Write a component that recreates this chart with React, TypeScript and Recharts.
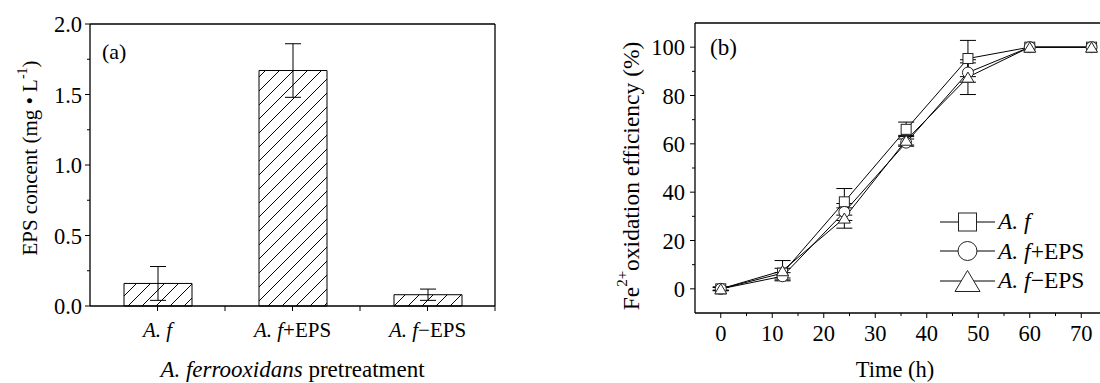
import { BarChart, Bar, LineChart, Line, XAxis, YAxis, ErrorBar, Legend } from "recharts";

const FONT = "'Times New Roman', 'Liberation Serif', Tinos, serif";

// panel (a): EPS content per pretreatment
const groups = ["A. f", "A. f+EPS", "A. f\u2212EPS"];
const epsMean = [0.16, 1.67, 0.08];
const epsErr = [0.12, 0.19, 0.04];
const epsTicks = [0, 0.25, 0.5, 0.75, 1, 1.25, 1.5, 1.75, 2];
const epsRightTicks = [0, 0.2, 0.4, 0.6, 0.8, 1, 1.2, 1.4, 1.6, 1.8, 2];

// panel (b): Fe2+ oxidation efficiency over time
const hours = [0, 12, 24, 36, 48, 60, 72];
const afMean = [0, 6.5, 36, 66, 95.3, 100, 100];
const afErr = [0.8, 2, 5.5, 3, 7.5, 0, 0];
const plusMean = [0, 5.2, 31.8, 60.5, 89.5, 100, 100];
const plusErr = [0.6, 1.5, 3.5, 1.5, 4, 0, 0];
const minusMean = [0, 7.5, 29.3, 61.5, 87.6, 100, 100];
const minusErr = [0.6, 4.2, 4.2, 2, 7.2, 0, 0];
const timeTicks = [0, 5, 10, 15, 20, 25, 30, 35, 40, 45, 50, 55, 60, 65, 70, 75];
const effTicks = [0, 10, 20, 30, 40, 50, 60, 70, 80, 90, 100];
const frameTicks = [0, 1, 2, 3, 4, 5, 6, 7, 8, 9, 10];

const barData = groups.map((g, i) => ({ group: g, eps: epsMean[i], err: epsErr[i] }));
const lineData = hours.map((t, i) => ({
  t,
  af: afMean[i],
  afErr: afErr[i],
  plus: plusMean[i],
  plusErr: plusErr[i],
  minus: minusMean[i],
  minusErr: minusErr[i],
}));

const A_PLOT_W = 405;
const axisStyle = { stroke: "#000", strokeWidth: 1.3 };
const txt = { fontFamily: FONT, fill: "#000" };

const GroupName = ({ text }: { text: string }) => (
  <>
    <tspan fontStyle="italic">A. f</tspan>
    {text.length > 4 && <tspan>{text.slice(4)}</tspan>}
  </>
);

const GroupTick = (p: any) => {
  const half = A_PLOT_W / groups.length / 2;
  return (
    <g>
      <line x1={p.x} x2={p.x} y1={p.y} y2={p.y + 5} stroke="#000" />
      <line x1={p.x + half} x2={p.x + half} y1={p.y} y2={p.y + 5} stroke="#000" />
      <text x={p.x} y={p.y + 31} textAnchor="middle" fontSize={21} {...txt}>
        <GroupName text={p.payload.value} />
      </text>
    </g>
  );
};

const EpsTick = (p: any) => {
  const v = p.payload.value;
  const major = Math.abs(v * 2 - Math.round(v * 2)) < 1e-6;
  return (
    <g>
      <line x1={p.x} x2={p.x - (major ? 5 : 3)} y1={p.y} y2={p.y} stroke="#000" />
      {major && (
        <text x={p.x - 8} y={p.y + 8} textAnchor="end" fontSize={22.5} {...txt}>
          {v.toFixed(1)}
        </text>
      )}
    </g>
  );
};

const TimeTick = (p: any) => {
  const v = p.payload.value;
  const major = v % 10 === 0;
  return (
    <g>
      <line x1={p.x} x2={p.x} y1={p.y} y2={p.y + (major ? 5 : 3)} stroke="#000" />
      {major && (
        <text x={p.x} y={p.y + 28} textAnchor="middle" fontSize={22.5} {...txt}>
          {v}
        </text>
      )}
    </g>
  );
};

const EffTick = (p: any) => {
  const v = p.payload.value;
  const major = v % 20 === 0;
  return (
    <g>
      <line x1={p.x} x2={p.x - (major ? 5 : 3)} y1={p.y} y2={p.y} stroke="#000" />
      {major && (
        <text x={p.x - 10} y={p.y + 8} textAnchor="end" fontSize={22.5} {...txt}>
          {v}
        </text>
      )}
    </g>
  );
};

const Square = ({ cx, cy, s }: any) => (
  <rect x={cx - s / 2} y={cy - s / 2} width={s} height={s} fill="#fff" stroke="#222" strokeWidth={1} />
);
const Circle = ({ cx, cy, s }: any) => <circle cx={cx} cy={cy} r={s / 2} fill="#fff" stroke="#222" strokeWidth={1} />;
const Triangle = ({ cx, cy, s }: any) => (
  <polygon
    points={`${cx - s / 2},${cy + s * 0.42} ${cx + s / 2},${cy + s * 0.42} ${cx},${cy - s * 0.42}`}
    fill="#fff"
    stroke="#222"
    strokeWidth={1}
  />
);

const series = [
  { key: "af", err: "afErr", name: "A. f", Marker: Square, dot: 10, icon: 18 },
  { key: "plus", err: "plusErr", name: "A. f+EPS", Marker: Circle, dot: 11, icon: 19 },
  { key: "minus", err: "minusErr", name: "A. f\u2212EPS", Marker: Triangle, dot: 12, icon: 25 },
];

const renderLegend = () => (
  <div style={{ fontFamily: FONT, fontSize: 23.5, color: "#000" }}>
    {series.map((s) => (
      <div key={s.key} style={{ display: "flex", alignItems: "center", height: 29.5 }}>
        <svg width={55} height={30} style={{ display: "block" }}>
          <line x1={0} x2={55} y1={15} y2={15} stroke="#000" strokeWidth={1} />
          <s.Marker cx={27.5} cy={15} s={s.icon} />
        </svg>
        <span style={{ marginLeft: 3, whiteSpace: "nowrap", lineHeight: "29px" }}>
          <i>A. f</i>
          {s.name.slice(4)}
        </span>
      </div>
    ))}
  </div>
);

const App = () => {
  return (
    <div style={{ position: "absolute", left: 0, top: 0, width: 1100, height: 383, overflow: "hidden", background: "#fff" }}>
      <div style={{ position: "absolute", left: 0, top: 0 }}>
        <BarChart width={520} height={383} data={barData} margin={{ top: 0, right: 0, bottom: 0, left: 0 }}>
          <defs>
            <pattern id="hatch" patternUnits="userSpaceOnUse" width={14} height={14}>
              <line x1={0} y1={14} x2={14} y2={0} stroke="#000" strokeWidth={1} />
              <line x1={-2} y1={2} x2={2} y2={-2} stroke="#000" strokeWidth={1} />
              <line x1={12} y1={16} x2={16} y2={12} stroke="#000" strokeWidth={1} />
            </pattern>
          </defs>
          <XAxis
            dataKey="group"
            height={77}
            axisLine={axisStyle}
            tickLine={false}
            tickSize={0}
            tickMargin={0}
            interval={0}
            tick={<GroupTick />}
            label={{
              content: (lp: any) => {
                const vb = lp.viewBox;
                return (
                  <text x={vb.x + vb.width / 2} y={vb.y + 71} textAnchor="middle" fontSize={23} {...txt}>
                    <tspan fontStyle="italic">A. ferrooxidans</tspan>
                    <tspan> pretreatment</tspan>
                  </text>
                );
              },
            }}
          />
          <XAxis
            xAxisId="top"
            orientation="top"
            type="number"
            domain={[0, 10]}
            ticks={frameTicks}
            height={24}
            axisLine={axisStyle}
            tick={false}
            tickSize={3}
            tickLine={{ stroke: "#000" }}
          />
          <YAxis
            domain={[0, 2]}
            ticks={epsTicks}
            width={90}
            interval={0}
            axisLine={axisStyle}
            tickLine={false}
            tickSize={0}
            tickMargin={0}
            tick={<EpsTick />}
            label={{
              content: (lp: any) => {
                const vb = lp.viewBox;
                const cx = vb.x + 30;
                const cy = vb.y + vb.height / 2 - 7;
                return (
                  <text
                    x={cx}
                    y={cy}
                    transform={`rotate(-90 ${cx} ${cy})`}
                    textAnchor="middle"
                    dominantBaseline="central"
                    fontSize={21}
                    {...txt}
                  >
                    EPS concent (mg {"\u2022"} L
                    <tspan dy={-8} fontSize={14}>
                      -1
                    </tspan>
                    <tspan dy={8}>)</tspan>
                  </text>
                );
              },
            }}
          />
          <YAxis
            yAxisId="right"
            orientation="right"
            domain={[0, 2]}
            ticks={epsRightTicks}
            width={25}
            interval={0}
            axisLine={axisStyle}
            tick={false}
            tickSize={3}
            tickLine={{ stroke: "#000" }}
          />
          <Bar dataKey="eps" barSize={68} fill="url(#hatch)" stroke="#000" strokeWidth={1} isAnimationActive={false}>
            <ErrorBar dataKey="err" width={8} stroke="#000" strokeWidth={1} direction="y" />
          </Bar>
        </BarChart>
        <div style={{ position: "absolute", left: 102, top: 41, fontFamily: FONT, fontSize: 22, lineHeight: "22px" }}>(a)</div>
      </div>

      <div style={{ position: "absolute", left: 560, top: 0 }}>
        <LineChart width={560} height={383} data={lineData} margin={{ top: 0, right: 13, bottom: 0, left: 0 }}>
          <XAxis
            dataKey="t"
            type="number"
            domain={[-5, 75]}
            ticks={timeTicks}
            height={70}
            interval={0}
            axisLine={axisStyle}
            tickLine={false}
            tickSize={0}
            tickMargin={0}
            tick={<TimeTick />}
            label={{
              content: (lp: any) => {
                const vb = lp.viewBox;
                return (
                  <text x={vb.x + vb.width / 2 - 6} y={vb.y + 64} textAnchor="middle" fontSize={22.5} {...txt}>
                    Time (h)
                  </text>
                );
              },
            }}
          />
          <XAxis
            xAxisId="top"
            orientation="top"
            type="number"
            domain={[0, 10]}
            ticks={frameTicks}
            height={23}
            axisLine={axisStyle}
            tick={false}
            tickSize={3}
            tickLine={{ stroke: "#000" }}
          />
          <YAxis
            domain={[-10, 110]}
            ticks={effTicks}
            width={135}
            interval={0}
            axisLine={axisStyle}
            tickLine={false}
            tickSize={0}
            tickMargin={0}
            tick={<EffTick />}
            label={{
              content: (lp: any) => {
                const vb = lp.viewBox;
                const cx = vb.x + 71;
                const cy = vb.y + vb.height / 2 + 8;
                return (
                  <text
                    x={cx}
                    y={cy}
                    transform={`rotate(-90 ${cx} ${cy})`}
                    textAnchor="middle"
                    dominantBaseline="central"
                    fontSize={23.5}
                    {...txt}
                  >
                    Fe
                    <tspan dy={-9} fontSize={15}>
                      2+
                    </tspan>
                    <tspan dy={9}>oxidation efficiency (%)</tspan>
                  </text>
                );
              },
            }}
          />
          <Legend
            content={renderLegend}
            layout="vertical"
            align="center"
            verticalAlign="middle"
            wrapperStyle={{ left: 380, top: 207, width: 180, height: 90 }}
          />
          {series.map((s) => (
            <Line
              key={s.key}
              dataKey={s.key}
              type="linear"
              stroke="#000"
              strokeWidth={1}
              isAnimationActive={false}
              dot={(dp: any) => <s.Marker key={`${s.key}-${dp.index}`} cx={dp.cx} cy={dp.cy} s={s.dot} />}
              activeDot={false}
            >
              <ErrorBar dataKey={s.err} width={8} stroke="#000" strokeWidth={1} direction="y" />
            </Line>
          ))}
        </LineChart>
        <div style={{ position: "absolute", left: 150, top: 36, fontFamily: FONT, fontSize: 23, lineHeight: "23px" }}>(b)</div>
      </div>
    </div>
  );
};

export default App;
